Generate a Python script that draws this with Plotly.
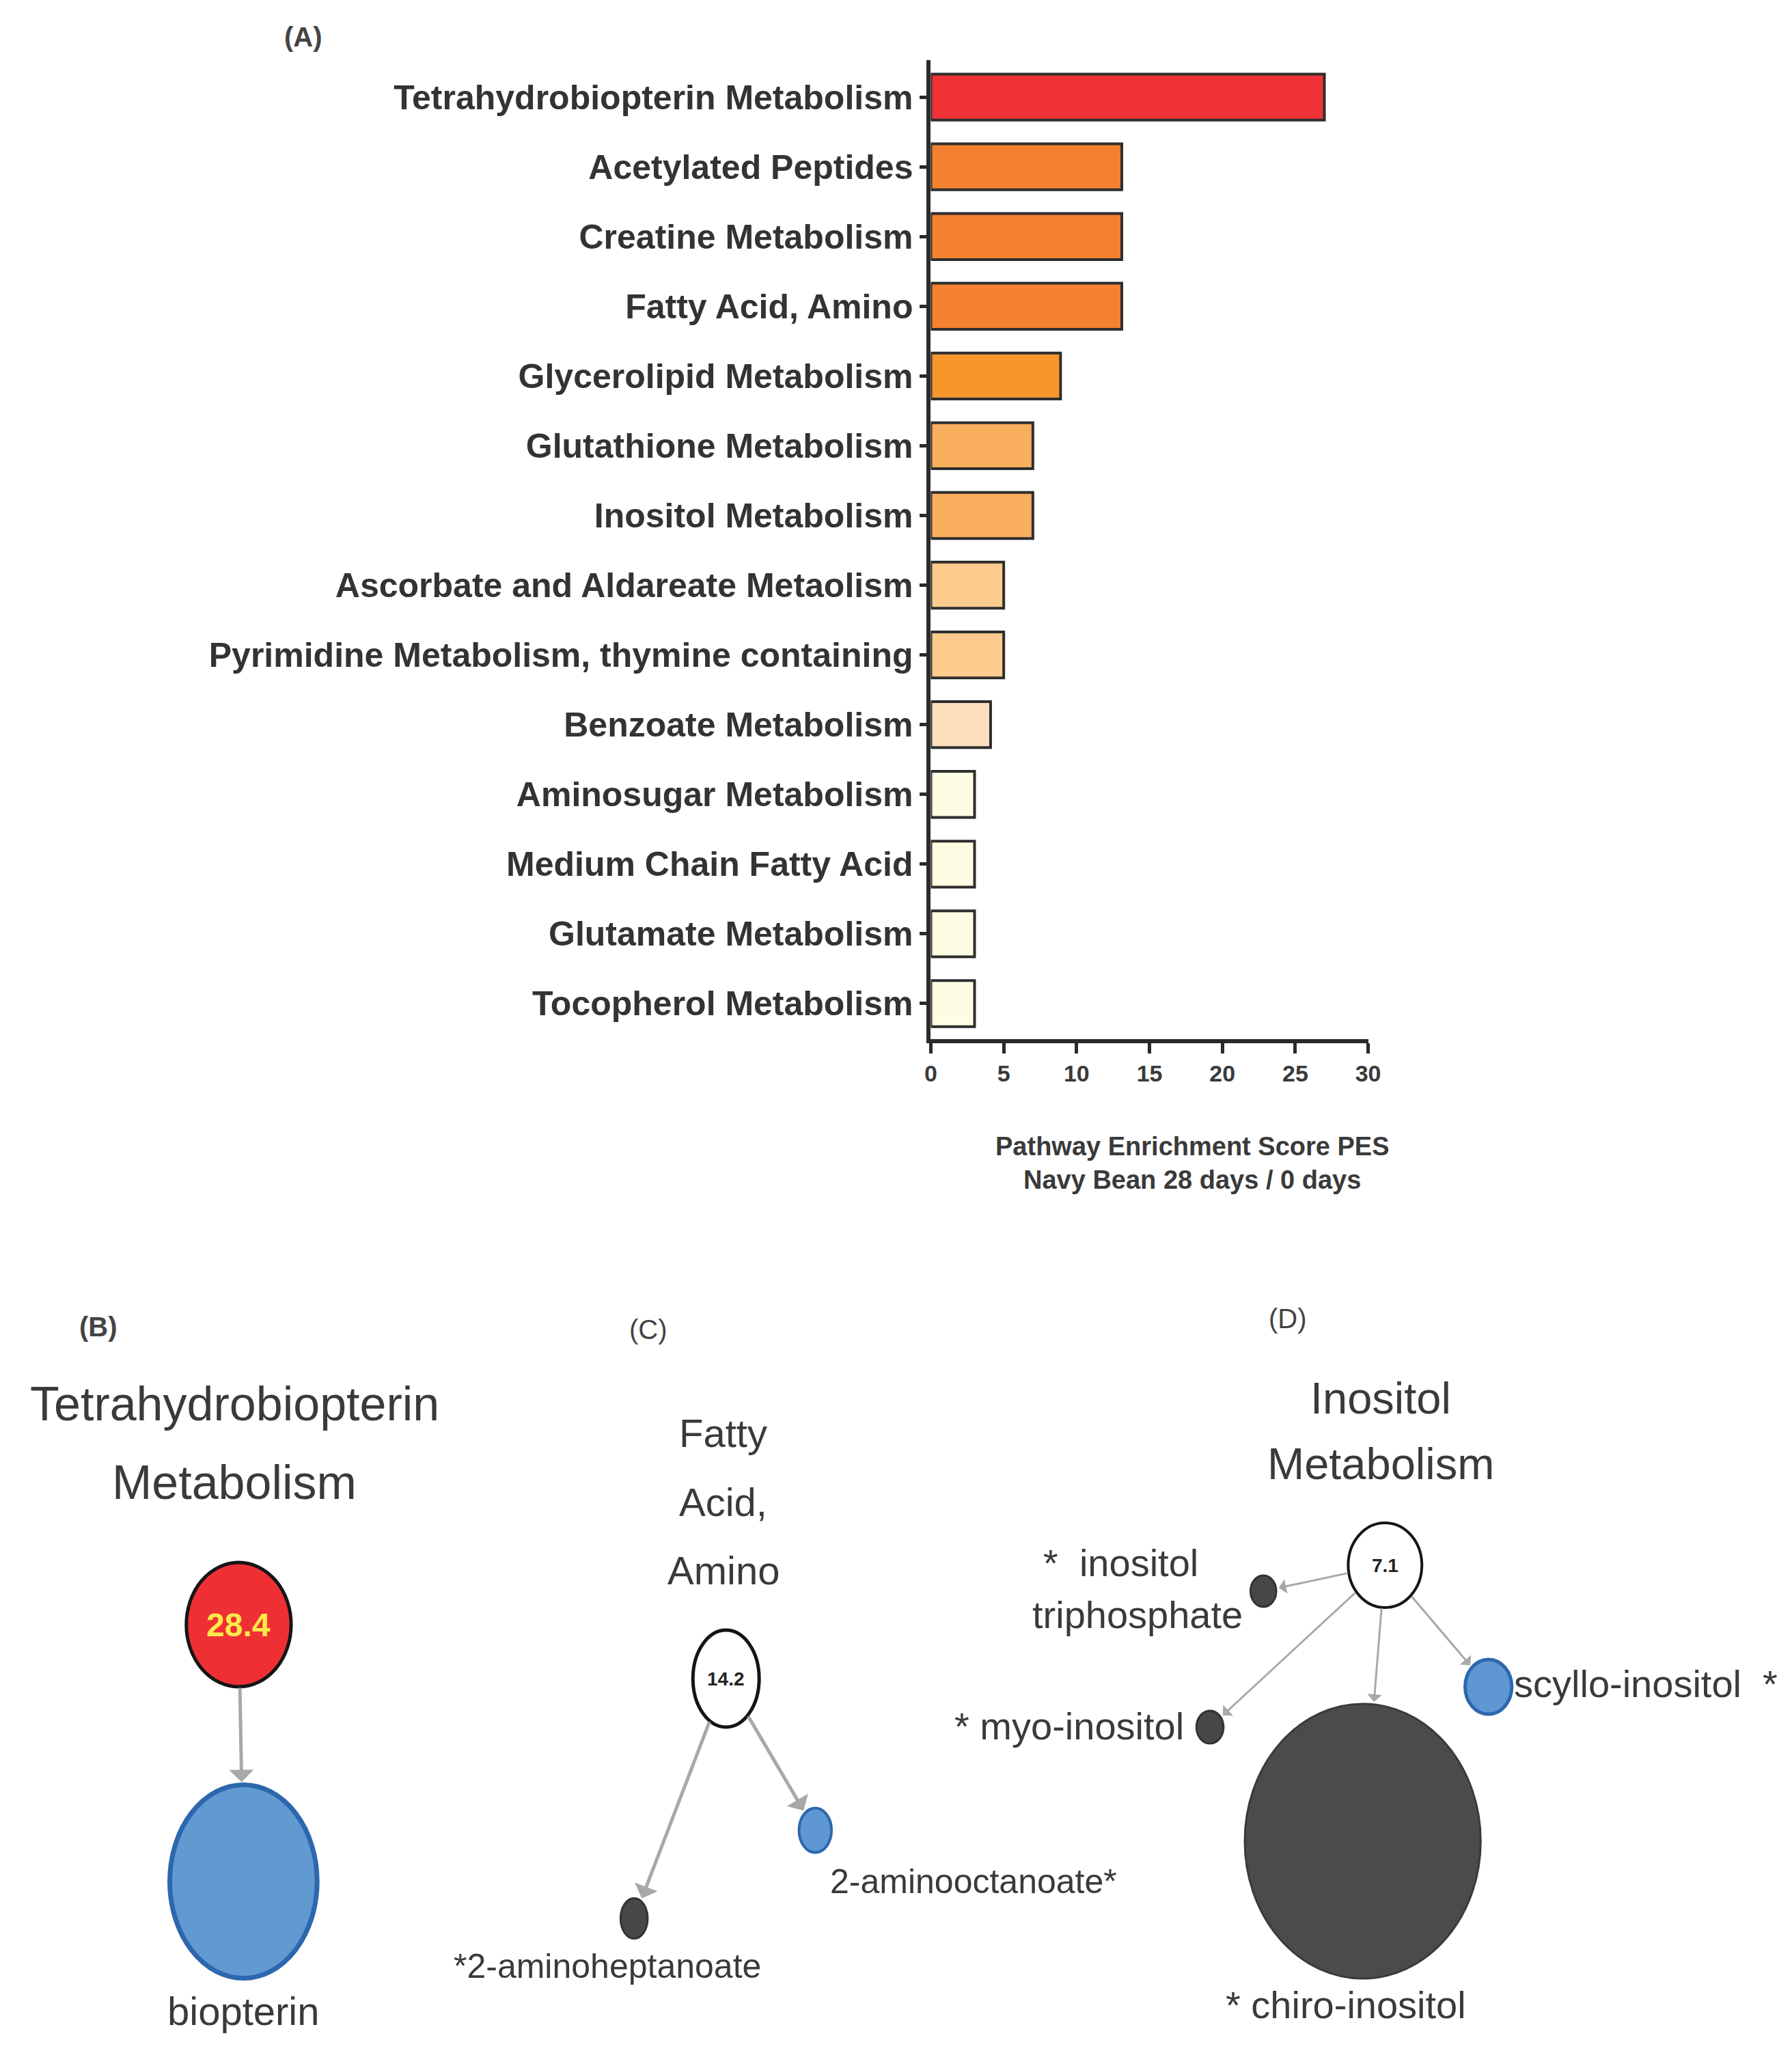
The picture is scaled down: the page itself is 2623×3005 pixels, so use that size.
import plotly.graph_objects as go
import math

W, H = 2623, 3005

# ---------------- Panel A data ----------------
pathways = [
    "Tetrahydrobiopterin Metabolism", "Acetylated Peptides", "Creatine Metabolism",
    "Fatty Acid, Amino", "Glycerolipid Metabolism", "Glutathione Metabolism",
    "Inositol Metabolism", "Ascorbate and Aldareate Metaolism",
    "Pyrimidine Metabolism, thymine containing", "Benzoate Metabolism",
    "Aminosugar Metabolism", "Medium Chain Fatty Acid", "Glutamate Metabolism",
    "Tocopherol Metabolism",
]
pes_values = [27.0, 13.1, 13.1, 13.1, 8.9, 7.0, 7.0, 5.0, 5.0, 4.1, 3.0, 3.0, 3.0, 3.0]
bar_colors = ["#EE3237", "#F3812F", "#F3812F", "#F3812F", "#F7962D", "#F9AE5E", "#F9AE5E",
              "#FCCB8E", "#FCCB8E", "#FDDFBD", "#FEFCE3", "#FEFCE3", "#FEFCE3", "#FEFCE3"]
x_ticks = [0, 5, 10, 15, 20, 25, 30]
x_title_lines = ["Pathway Enrichment Score PES", "Navy Bean 28 days / 0 days"]

# ---------------- Network panels data ----------------
node_ids = ["B_hub", "B_bio", "C_hub", "C_oct", "C_hep", "D_hub", "D_tri", "D_myo", "D_scy", "D_chi"]
node_x = [336, 343, 1057, 1189, 921, 2032, 1852, 1773, 2185, 1999]
node_y = [2370, 2746, 2449, 2671, 2800, 2283, 2321, 2520, 2461, 2687]
node_w = [155, 218, 98, 48, 40, 109, 38, 40, 69, 349]
node_h = [182, 283, 142, 65, 59, 124, 46, 48, 80, 402]
node_fill = ["#EE3035", "#6199D1", "#FFFFFF", "#5E97D2", "#47474A", "#FFFFFF",
             "#47474A", "#47474A", "#5E97D2", "#4B4B4E"]
node_line = ["#151515", "#2D67AE", "#151515", "#2D67AE", "#333335", "#151515",
             "#333335", "#333335", "#2D67AE", "#3A3A3C"]
node_lw = [5, 7, 5, 4, 3, 4, 3, 3, 5, 3]
hub_text = {"B_hub": ("28.4", "#FFE94A", 48), "C_hub": ("14.2", "#222222", 28), "D_hub": ("7.1", "#222222", 28)}

edges = [("B_hub", "B_bio", 5), ("C_hub", "C_hep", 5), ("C_hub", "C_oct", 5),
         ("D_hub", "D_tri", 3), ("D_hub", "D_myo", 3), ("D_hub", "D_chi", 3), ("D_hub", "D_scy", 3)]

panel_letters = ["(A)", "(B)", "(C)", "(D)"]
letter_x = [432, 128, 942, 1888]
letter_y = [46, 1934, 1938, 1922]

titles = [("Tetrahydrobiopterin", 330, 2047, 70), ("Metabolism", 330, 2162, 70),
          ("Fatty", 1053, 2089, 58), ("Acid,", 1053, 2190, 58), ("Amino", 1053, 2290, 58),
          ("Inositol", 2026, 2038, 65), ("Metabolism", 2026, 2134, 65)]

labels = [("biopterin", 343, 2935, "center", 58),
          ("*2-aminoheptanoate", 881, 2870, "center", 50),
          ("2-aminooctanoate*", 1423, 2746, "center", 50),
          ("*  inositol", 1641, 2279, "center", 56),
          ("triphosphate", 1666, 2355, "center", 56),
          ("* myo-inositol", 1737, 2518, "right", 56),
          ("scyllo-inositol  *", 2221, 2456, "left", 56),
          ("* chiro-inositol", 1974, 2926, "center", 56)]

FONT = "Liberation Sans, Arial, Helvetica, sans-serif"
TXT = "#3a3a3a"

fig = go.Figure()

# ---- Panel A bars ----
ax_x0, ax_x1 = 1360, 2007
ax_top, ax_bot = 80, 1513
fig.add_trace(go.Bar(
    x=pes_values, y=pathways, orientation="h",
    marker=dict(color=bar_colors, line=dict(color="#2e2e2e", width=4)),
    width=0.66, xaxis="x", yaxis="y", showlegend=False, hoverinfo="skip"))

fig.update_layout(
    width=W, height=H, margin=dict(l=0, r=0, t=0, b=0),
    paper_bgcolor="white", plot_bgcolor="rgba(0,0,0,0)",
    xaxis=dict(domain=[ax_x0 / W, ax_x1 / W], range=[0, 30], tickvals=x_ticks,
               showline=True, linewidth=6, linecolor="#2a2a2a", mirror=False,
               ticks="outside", ticklen=15, tickwidth=5, tickcolor="#2a2a2a",
               showgrid=False, zeroline=False,
               tickfont=dict(family=FONT, size=34, color=TXT, weight="bold"), anchor="y"),
    yaxis=dict(domain=[1 - ax_bot / H, 1 - ax_top / H], type="category",
               categoryorder="array", categoryarray=pathways, range=[13.51, -0.53],
               showline=True, linewidth=6, linecolor="#2a2a2a",
               ticks="outside", ticklen=10, tickwidth=5, tickcolor="#2a2a2a",
               showgrid=False, zeroline=False,
               tickfont=dict(family=FONT, size=50, color="#333333", weight="bold"), anchor="x"),
    xaxis2=dict(domain=[0, 1], range=[0, W], visible=False, anchor="y2", fixedrange=True),
    yaxis2=dict(domain=[0, 1], range=[H, 0], visible=False, anchor="x2", fixedrange=True),
)

# invisible trace to activate overlay axes
fig.add_trace(go.Scatter(x=node_x, y=node_y, mode="markers", marker=dict(size=1, opacity=0),
                         xaxis="x2", yaxis="y2", showlegend=False, hoverinfo="skip"))

annotations = []
shapes = []

# axis title lines
for i, line in enumerate(x_title_lines):
    annotations.append(dict(x=1747, y=1670 + 49 * i, xref="x2", yref="y2", text=line,
                            showarrow=False, font=dict(family=FONT, size=38, color=TXT, weight="bold")))

# panel letters
for i, (t, lx, ly) in enumerate(zip(panel_letters, letter_x, letter_y)):
    annotations.append(dict(x=lx, y=ly, xref="x2", yref="y2", text=t, showarrow=False,
                            font=dict(family=FONT, size=40, color="#444444",
                                      weight="bold" if i < 2 else "normal")))

# titles
for t, tx, ty, sz in titles:
    annotations.append(dict(x=tx, y=ty, xref="x2", yref="y2", text=t, showarrow=False,
                            font=dict(family=FONT, size=sz, color=TXT)))

idx = {n: i for i, n in enumerate(node_ids)}

def boundary(i, dx, dy):
    a, b = node_w[i] / 2, node_h[i] / 2
    t = 1 / math.sqrt((dx / a) ** 2 + (dy / b) ** 2)
    return node_x[i] + t * dx, node_y[i] + t * dy

# edges
for s, t, lw in edges:
    i, j = idx[s], idx[t]
    dx, dy = node_x[j] - node_x[i], node_y[j] - node_y[i]
    sx, sy = boundary(i, dx, dy)
    ex, ey = boundary(j, -dx, -dy)
    annotations.append(dict(x=ex, y=ey, ax=sx, ay=sy, xref="x2", yref="y2", axref="x2", ayref="y2",
                            text="", showarrow=True, arrowhead=1, arrowsize=1.2, arrowwidth=lw,
                            arrowcolor="#a8a8a8", standoff=4))

# nodes
for i, n in enumerate(node_ids):
    shapes.append(dict(type="circle", xref="x2", yref="y2",
                       x0=node_x[i] - node_w[i] / 2, x1=node_x[i] + node_w[i] / 2,
                       y0=node_y[i] - node_h[i] / 2, y1=node_y[i] + node_h[i] / 2,
                       fillcolor=node_fill[i], line=dict(color=node_line[i], width=node_lw[i]),
                       layer="above"))
    if n in hub_text:
        txt, col, sz = hub_text[n]
        annotations.append(dict(x=node_x[i], y=node_y[i], xref="x2", yref="y2", text=txt,
                                showarrow=False, font=dict(family=FONT, size=sz, color=col, weight="bold")))

# node labels
for t, lx, ly, anc, sz in labels:
    annotations.append(dict(x=lx, y=ly, xref="x2", yref="y2", text=t, showarrow=False,
                            xanchor=anc, font=dict(family=FONT, size=sz, color=TXT)))

fig.update_layout(annotations=annotations, shapes=shapes)
fig.write_html("out.html")
